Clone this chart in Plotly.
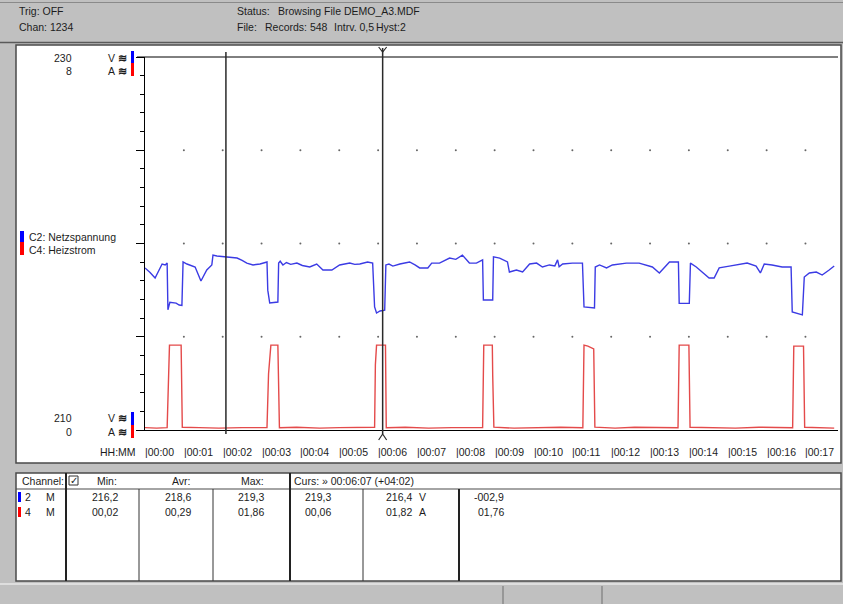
import plotly.graph_objects as go

# ---------------------------------------------------------------------------
# Data (time in minutes since 00:00)
# ---------------------------------------------------------------------------
NETZ_T = [0.00, 0.13, 0.26, 0.35, 0.44, 0.52, 0.57, 0.59, 0.64, 0.80,
          0.88, 0.95, 0.98, 1.08, 1.18, 1.29, 1.44, 1.59, 1.72, 1.75,
          1.85, 2.11, 2.37, 2.50, 2.62, 2.78, 2.96, 3.14, 3.16, 3.21,
          3.30, 3.42, 3.44, 3.48, 3.55, 3.64, 3.75, 3.91, 4.05, 4.24,
          4.42, 4.58, 4.81, 5.01, 5.27, 5.40, 5.53, 5.73, 5.86, 5.91,
          5.96, 6.05, 6.17, 6.20, 6.28, 6.38, 6.56, 6.81, 6.95, 7.07,
          7.28, 7.38, 7.58, 7.84, 8.00, 8.17, 8.35, 8.53, 8.69, 8.71,
          8.95, 8.97, 9.13, 9.33, 9.38, 9.56, 9.72, 9.90, 10.08, 10.23,
          10.41, 10.55, 10.62, 10.66, 10.75, 11.00, 11.26, 11.28, 11.30, 11.57,
          11.59, 11.70, 11.88, 12.03, 12.39, 12.72, 13.06, 13.24, 13.50, 13.73,
          13.75, 14.01, 14.04, 14.19, 14.34, 14.52, 14.65, 14.78, 15.04, 15.30,
          15.50, 15.73, 15.84, 15.94, 16.14, 16.40, 16.63, 16.66, 16.92, 16.97,
          17.10, 17.28, 17.43, 17.61, 17.74]
NETZ_V = [218.69, 218.45, 218.15, 218.55, 218.90, 218.85, 218.95, 216.45, 216.85, 216.80,
          216.70, 216.68, 219.01, 218.90, 218.82, 218.74, 217.99, 218.58, 218.85, 219.38,
          219.33, 219.28, 219.22, 219.10, 218.95, 218.85, 218.90, 219.01, 217.50, 216.81,
          216.84, 216.86, 218.95, 219.05, 218.85, 218.98, 218.88, 218.95, 218.82, 218.74,
          218.90, 218.58, 218.58, 218.85, 218.95, 218.88, 218.90, 219.01, 218.95, 216.60,
          216.27, 216.38, 216.43, 218.85, 218.90, 218.79, 218.90, 219.01, 218.85, 218.69,
          218.69, 218.95, 218.95, 219.22, 219.15, 219.38, 218.95, 218.95, 219.12, 216.97,
          216.97, 219.28, 219.22, 219.01, 218.47, 218.58, 218.47, 218.90, 218.95, 218.74,
          218.85, 218.80, 219.12, 218.75, 218.90, 218.95, 218.95, 217.70, 216.60, 216.54,
          218.74, 218.85, 218.69, 218.85, 218.95, 218.95, 218.74, 218.42, 219.01, 219.01,
          216.79, 216.79, 218.95, 218.74, 218.47, 218.15, 218.15, 218.69, 218.79, 218.90,
          218.95, 218.79, 218.42, 218.90, 218.85, 218.74, 218.74, 216.33, 216.17, 218.20,
          218.42, 218.47, 218.31, 218.58, 218.79]

HEIZ_T = [0.00, 0.30, 0.57, 0.60, 0.63, 0.93, 0.96, 1.40, 1.90, 2.50,
          3.00, 3.14, 3.18, 3.24, 3.42, 3.46, 3.90, 4.50, 5.00, 5.50,
          5.91, 5.93, 5.96, 6.19, 6.21, 6.70, 7.30, 7.90, 8.40, 8.69,
          8.72, 8.94, 8.95, 8.98, 9.50, 10.10, 10.70, 11.27, 11.30, 11.40,
          11.55, 11.58, 12.10, 12.60, 13.20, 13.72, 13.75, 14.00, 14.03, 14.60,
          15.20, 15.80, 16.30, 16.67, 16.70, 16.95, 16.98, 17.40, 17.74]
HEIZ_A = [0.05, 0.04, 0.05, 1.30, 1.82, 1.82, 0.06, 0.05, 0.04, 0.05,
          0.06, 0.05, 1.20, 1.82, 1.82, 0.05, 0.06, 0.04, 0.05, 0.05,
          0.06, 1.40, 1.82, 1.82, 0.05, 0.06, 0.04, 0.05, 0.05, 0.05,
          1.82, 1.82, 1.17, 0.06, 0.04, 0.05, 0.06, 0.05, 1.82, 1.80,
          1.74, 0.06, 0.04, 0.06, 0.05, 0.05, 1.82, 1.82, 0.06, 0.05,
          0.04, 0.06, 0.05, 0.05, 1.80, 1.80, 0.06, 0.05, 0.04]

MINUTES = list(range(18))
MINUTE_LABELS = ["|00:00", "|00:01", "|00:02", "|00:03", "|00:04", "|00:05",
                 "|00:06", "|00:07", "|00:08", "|00:09", "|00:10", "|00:11",
                 "|00:12", "|00:13", "|00:14", "|00:15", "|00:16", "|00:17"]
V_RANGE = [210, 230]
A_RANGE = [0, 8]
GRID_LEVELS = [215, 220, 225]
CURSORS = [2.083, 6.117]   # 00:02:05 and 00:06:07

TABLE_ROWS = [
    ("2", "M", "216,2", "218,6", "219,3", "219,3", "216,4", "V", "-002,9"),
    ("4", "M", "00,02", "00,29", "01,86", "00,06", "01,82", "A", "01,76"),
]

# ---------------------------------------------------------------------------
FONT = "Liberation Sans, Arial, sans-serif"
FS = 10.5
INK = "#1c1c1c"
WIN_GRAY = "#c0c0c0"
DARK = "#4a4a4a"
BLUE_LINE = "#3b3be4"
RED_LINE = "#e44a4a"

W, H = 843, 604
PL, PR, PT, PB = 145, 838, 57, 430      # plot area in pixels
PX_PER_MIN = 38.85


def fx(x):
    return (x - PL) / (PR - PL)


def fy(y):
    return (PB - y) / (PB - PT)


shapes = []
annots = []


def rect(x0, y0, x1, y1, fill="rgba(0,0,0,0)", line=None, lw=1, layer="below"):
    shapes.append(dict(type="rect", xref="paper", yref="paper",
                       x0=fx(x0), x1=fx(x1), y0=fy(y1), y1=fy(y0),
                       fillcolor=fill, layer=layer,
                       line=dict(color=line or "rgba(0,0,0,0)",
                                 width=lw if line else 0)))


def seg(x0, y0, x1, y1, color=DARK, lw=1, layer="below"):
    shapes.append(dict(type="line", xref="paper", yref="paper",
                       x0=fx(x0), x1=fx(x1), y0=fy(y0), y1=fy(y1),
                       layer=layer, line=dict(color=color, width=lw)))


def txt(x, y, s, anchor="left", size=FS, color=INK):
    annots.append(dict(xref="paper", yref="paper", x=fx(x), y=fy(y),
                       text=s, xanchor=anchor, yanchor="middle",
                       showarrow=False, borderpad=0,
                       font=dict(family=FONT, size=size, color=color)))


# --- window chrome --------------------------------------------------------
seg(0, 2.5, W, 2.5, "#8a8a8a")
seg(0, 42.5, W, 42.5, "#5a5a5a", 1.5)
txt(18, 11, "Trig: OFF")
txt(18, 27, "Chan: 1234")
txt(236, 11, "Status:")
txt(277, 11, "Browsing File DEMO_A3.MDF")
txt(236, 27, "File:")
txt(264, 27, "Records: 548")
txt(333, 27, "Intrv. 0,5")
txt(375, 27, "Hyst:2")

# plot panel
rect(16, 45, 841, 463, fill="white", line=DARK, lw=1.5)
# table panel
rect(16, 473, 841, 581, fill="white", line=DARK, lw=1.5)
# status bar
seg(0, 584, W, 584, "#e8e8e8", 1.5)
for x in (503, 602):
    seg(x, 586, x, 604, "#8a8a8a", 1.5)

# --- plot decorations -----------------------------------------------------
seg(137, PT, PR, PT, "#000", 1, layer="above")
txt(73, 58, "230", anchor="right")
txt(73, 71, "8", anchor="right")
txt(73, 418, "210", anchor="right")
txt(73, 432, "0", anchor="right")
for yy, lab in ((58, "V"), (71, "A"), (418, "V"), (432, "A")):
    txt(107, yy, lab)
    txt(117, yy, "<b>≋</b>", size=11)
rect(131, 51, 134, 63, fill="#0000ff")
rect(131, 63, 134, 76, fill="#ff0000")
rect(131, 412, 134, 425, fill="#0000ff")
rect(131, 425, 134, 438, fill="#ff0000")

rect(20, 231, 24, 242, fill="#0000ff")
rect(20, 242, 24, 255, fill="#ff0000")
txt(28, 237, "C2: Netzspannung")
txt(28, 250, "C4: Heizstrom")

txt(99, 452, "HH:MM")
for m, lab in zip(MINUTES, MINUTE_LABELS):
    annots.append(dict(xref="x", yref="paper", x=m, y=fy(452), text=lab,
                       xanchor="left", yanchor="middle", showarrow=False,
                       xshift=-1, borderpad=0,
                       font=dict(family=FONT, size=FS, color=INK)))

# cursors
for i, c in enumerate(CURSORS):
    top = 48 if i == 1 else 52
    bot = 434
    shapes.append(dict(type="line", xref="x", yref="paper", x0=c, x1=c,
                       y0=fy(bot), y1=fy(top), layer="above",
                       line=dict(color="#2a2a2a", width=1.5)))
shapes.append(dict(type="path", xref="x", yref="paper", xsizemode="pixel",
                   ysizemode="pixel", xanchor=CURSORS[1], yanchor=fy(52),
                   path="M-4,5 L0,0 L4,5", layer="above",
                   line=dict(color="#2a2a2a", width=1.2)))
shapes.append(dict(type="path", xref="x", yref="paper", xsizemode="pixel",
                   ysizemode="pixel", xanchor=CURSORS[1], yanchor=fy(434),
                   path="M-4,-6 L0,0 L4,-6", layer="above",
                   line=dict(color="#2a2a2a", width=1.2)))

# --- table ----------------------------------------------------------------
seg(16, 489, 841, 489, DARK, 1.2)
for x in (66, 290):
    seg(x, 473, x, 581, "#222", 2)
for x in (139, 213, 363):
    seg(x, 489, x, 581, "#333", 1)
seg(459, 489, 459, 581, "#222", 2)
rect(69, 476, 78, 485, fill="white", line="#333", lw=1)
txt(73.5, 480, "✓", anchor="center", size=10)
txt(21, 481, "Channel:")
txt(107, 481, "Min:", anchor="center")
txt(181, 481, "Avr:", anchor="center")
txt(252, 481, "Max:", anchor="center")
txt(293, 481, "Curs: » 00:06:07 (+04:02)")

row_y = [497, 512]
bar_col = ["#0000ff", "#ff0000"]
for yy, col, row in zip(row_y, bar_col, TABLE_ROWS):
    rect(18, yy - 5, 21, yy + 5, fill=col)
    ch, mode, mn, av, mx, c1, c2, unit, diff = row
    txt(24, yy, ch)
    txt(45, yy, mode)
    txt(105, yy, mn, anchor="center")
    txt(178, yy, av, anchor="center")
    txt(251, yy, mx, anchor="center")
    txt(318, yy, c1, anchor="center")
    txt(413, yy, c2, anchor="right")
    txt(418, yy, unit)
    txt(505, yy, diff, anchor="right")

# --- traces ---------------------------------------------------------------
fig = go.Figure()

grid_x = [m for m in MINUTES[1:] for _ in GRID_LEVELS]
grid_y = [lv for _ in MINUTES[1:] for lv in GRID_LEVELS]
fig.add_trace(go.Scatter(x=grid_x, y=grid_y, mode="markers",
                         marker=dict(size=2, color="#666"),
                         hoverinfo="skip", showlegend=False))

fig.add_trace(go.Scatter(x=NETZ_T, y=NETZ_V, mode="lines",
                         name="C2: Netzspannung",
                         line=dict(color=BLUE_LINE, width=1.4),
                         showlegend=False))
fig.add_trace(go.Scatter(x=HEIZ_T, y=HEIZ_A, mode="lines", yaxis="y2",
                         name="C4: Heizstrom",
                         line=dict(color=RED_LINE, width=1.4),
                         showlegend=False))

fig.update_layout(
    width=W, height=H,
    margin=dict(l=PL, r=W - PR, t=PT, b=H - PB, pad=0),
    paper_bgcolor=WIN_GRAY, plot_bgcolor="white",
    font=dict(family=FONT, size=FS, color=INK),
    showlegend=False,
    xaxis=dict(range=[0, (PR - PL) / PX_PER_MIN], showgrid=False,
               zeroline=False, showticklabels=False, ticks="",
               showline=True, linecolor="#000", linewidth=1),
    yaxis=dict(range=V_RANGE, showgrid=False, zeroline=False,
               showticklabels=False, showline=True, linecolor="#000",
               linewidth=1, ticks="outside", tickmode="linear", tick0=210,
               dtick=5, ticklen=8, tickcolor="#000", tickwidth=1,
               minor=dict(ticks="outside", dtick=1, tick0=210, ticklen=4,
                          tickcolor="#000", tickwidth=1, showgrid=False)),
    yaxis2=dict(range=A_RANGE, overlaying="y", visible=False),
    shapes=shapes,
    annotations=annots,
)

# the page body keeps a default 8px margin; drop it so the figure sits at 0,0
fig.write_html("out.html", config={"displayModeBar": False},
               post_script="document.body.style.margin='0';")
